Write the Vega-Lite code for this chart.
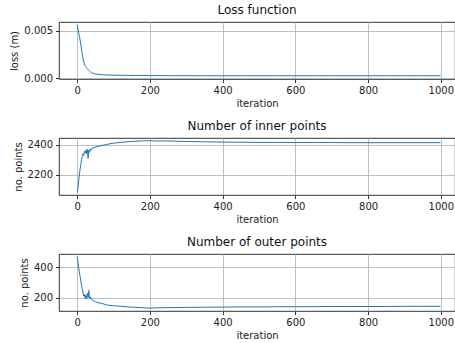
{
  "$schema": "https://vega.github.io/schema/vega-lite/v6.json",
  "background": "white",
  "padding": {"left": 9, "top": 3, "right": 0, "bottom": 0},
  "spacing": 10,
  "datasets": {
    "run": [
      {"it": 0, "loss": 0.0056, "inner": 2085, "outer": 472},
      {"it": 2, "loss": 0.0052, "inner": 2110, "outer": 440},
      {"it": 4, "loss": 0.0048, "inner": 2160, "outer": 400},
      {"it": 6, "loss": 0.0044, "inner": 2200, "outer": 370},
      {"it": 8, "loss": 0.0040, "inner": 2240, "outer": 340},
      {"it": 10, "loss": 0.0035, "inner": 2270, "outer": 310},
      {"it": 12, "loss": 0.0030, "inner": 2300, "outer": 280},
      {"it": 14, "loss": 0.0025, "inner": 2320, "outer": 255},
      {"it": 16, "loss": 0.0021, "inner": 2340, "outer": 235},
      {"it": 18, "loss": 0.0017, "inner": 2330, "outer": 210},
      {"it": 20, "loss": 0.0015, "inner": 2355, "outer": 222},
      {"it": 22, "loss": 0.0013, "inner": 2345, "outer": 195},
      {"it": 24, "loss": 0.0012, "inner": 2365, "outer": 215},
      {"it": 26, "loss": 0.0011, "inner": 2340, "outer": 190},
      {"it": 28, "loss": 0.00098, "inner": 2370, "outer": 230},
      {"it": 30, "loss": 0.00088, "inner": 2310, "outer": 200},
      {"it": 32, "loss": 0.0008, "inner": 2365, "outer": 248},
      {"it": 34, "loss": 0.00072, "inner": 2350, "outer": 195},
      {"it": 36, "loss": 0.00065, "inner": 2372, "outer": 205},
      {"it": 38, "loss": 0.0006, "inner": 2362, "outer": 190},
      {"it": 40, "loss": 0.00055, "inner": 2376, "outer": 185},
      {"it": 45, "loss": 0.00048, "inner": 2380, "outer": 180},
      {"it": 50, "loss": 0.00043, "inner": 2385, "outer": 172},
      {"it": 60, "loss": 0.00038, "inner": 2390, "outer": 165},
      {"it": 70, "loss": 0.00035, "inner": 2396, "outer": 160},
      {"it": 80, "loss": 0.00033, "inner": 2401, "outer": 152},
      {"it": 90, "loss": 0.00031, "inner": 2406, "outer": 148},
      {"it": 100, "loss": 0.0003, "inner": 2410, "outer": 146},
      {"it": 120, "loss": 0.00029, "inner": 2415, "outer": 142},
      {"it": 140, "loss": 0.00028, "inner": 2420, "outer": 138},
      {"it": 160, "loss": 0.00027, "inner": 2423, "outer": 135},
      {"it": 180, "loss": 0.00027, "inner": 2425, "outer": 133},
      {"it": 200, "loss": 0.00026, "inner": 2426, "outer": 130},
      {"it": 220, "loss": 0.00026, "inner": 2424, "outer": 132},
      {"it": 240, "loss": 0.00025, "inner": 2425, "outer": 133},
      {"it": 260, "loss": 0.00025, "inner": 2424, "outer": 134},
      {"it": 280, "loss": 0.00025, "inner": 2422, "outer": 134},
      {"it": 300, "loss": 0.00025, "inner": 2421, "outer": 135},
      {"it": 350, "loss": 0.00024, "inner": 2419, "outer": 136},
      {"it": 400, "loss": 0.00024, "inner": 2417, "outer": 137},
      {"it": 450, "loss": 0.00024, "inner": 2416, "outer": 138},
      {"it": 500, "loss": 0.00024, "inner": 2415, "outer": 138},
      {"it": 550, "loss": 0.00024, "inner": 2415, "outer": 139},
      {"it": 600, "loss": 0.00024, "inner": 2414, "outer": 139},
      {"it": 650, "loss": 0.00024, "inner": 2414, "outer": 140},
      {"it": 700, "loss": 0.00024, "inner": 2414, "outer": 141},
      {"it": 750, "loss": 0.00024, "inner": 2413, "outer": 141},
      {"it": 800, "loss": 0.00024, "inner": 2413, "outer": 141},
      {"it": 850, "loss": 0.00024, "inner": 2413, "outer": 141},
      {"it": 900, "loss": 0.00024, "inner": 2413, "outer": 142},
      {"it": 950, "loss": 0.00024, "inner": 2413, "outer": 142},
      {"it": 999, "loss": 0.00024, "inner": 2413, "outer": 142}
    ]
  },
  "config": {
    "font": "DejaVu Sans",
    "view": {"stroke": "black", "strokeWidth": 0.8},
    "axis": {
      "grid": true,
      "gridColor": "#b0b0b0",
      "gridWidth": 0.8,
      "domain": false,
      "tickColor": "black",
      "tickSize": 3.5,
      "tickWidth": 0.8,
      "labelFont": "DejaVu Sans",
      "labelFontSize": 10,
      "labelColor": "#222",
      "labelPadding": 3,
      "titleFont": "DejaVu Sans",
      "titleFontSize": 10,
      "titleFontWeight": "normal",
      "titleColor": "#222"
    },
    "title": {"font": "DejaVu Sans", "fontSize": 12, "fontWeight": "normal", "color": "#111", "offset": 5}
  },
  "vconcat": [
    {
      "title": "Loss function",
      "width": 396,
      "height": 57,
      "data": {"name": "run"},
      "mark": {"type": "line", "color": "#1f77b4", "strokeWidth": 1},
      "encoding": {
        "x": {"field": "it", "type": "quantitative", "scale": {"domain": [-50, 1039], "nice": false}, "axis": {"values": [0, 200, 400, 600, 800, 1000], "format": "d", "title": "iteration", "titlePadding": 3}},
        "y": {"field": "loss", "type": "quantitative", "scale": {"domain": [-0.0001, 0.0059], "nice": false, "zero": false}, "axis": {"values": [0, 0.005], "format": ".3f", "title": "loss (m)", "titlePadding": 4}}
      }
    },
    {
      "title": "Number of inner points",
      "width": 396,
      "height": 57,
      "data": {"name": "run"},
      "mark": {"type": "line", "color": "#1f77b4", "strokeWidth": 1},
      "encoding": {
        "x": {"field": "it", "type": "quantitative", "scale": {"domain": [-50, 1039], "nice": false}, "axis": {"values": [0, 200, 400, 600, 800, 1000], "format": "d", "title": "iteration", "titlePadding": 3}},
        "y": {"field": "inner", "type": "quantitative", "scale": {"domain": [2068, 2444], "nice": false, "zero": false}, "axis": {"values": [2200, 2400], "format": "d", "title": "no. points", "titlePadding": 4}}
      }
    },
    {
      "title": "Number of outer points",
      "width": 396,
      "height": 57,
      "data": {"name": "run"},
      "mark": {"type": "line", "color": "#1f77b4", "strokeWidth": 1},
      "encoding": {
        "x": {"field": "it", "type": "quantitative", "scale": {"domain": [-50, 1039], "nice": false}, "axis": {"values": [0, 200, 400, 600, 800, 1000], "format": "d", "title": "iteration", "titlePadding": 3}},
        "y": {"field": "outer", "type": "quantitative", "scale": {"domain": [111, 489], "nice": false, "zero": false}, "axis": {"values": [200, 400], "format": "d", "title": "no. points", "titlePadding": 4}}
      }
    }
  ]
}
